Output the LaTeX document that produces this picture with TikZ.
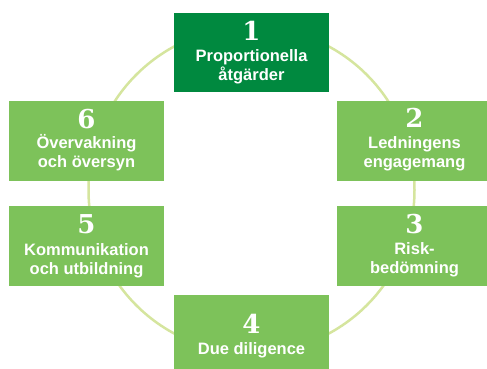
\documentclass[tikz,border=0pt]{standalone}
\usepackage{fontspec}
\setmainfont{Liberation Sans}
\newfontfamily\numfont{DejaVu Serif}
\definecolor{dkgreen}{HTML}{00893F}
\definecolor{ltgreen}{HTML}{7DC25A}
\definecolor{ringcol}{HTML}{D5E59E}
\begin{document}
\begin{tikzpicture}[x=1pt,y=-1pt,
  box/.style={fill=ltgreen, draw=none, minimum width=155pt, minimum height=80pt, inner sep=0pt},
  num/.style={anchor=base, font=\numfont\bfseries\fontsize{26}{26}\selectfont, text=white, inner sep=0pt},
  lbl/.style={anchor=base, font=\bfseries\fontsize{16.5}{19}\selectfont, text=white, inner sep=0pt}]
\useasboundingbox (0,0) rectangle (487,369);
\draw[ringcol, line width=2.5pt] (251.5,190) circle[radius=163pt];
% boxes
\node[box, fill=dkgreen, minimum height=79pt] (b1) at (251.5,52.5) {};
\node[box] (b2) at (414.5,141) {};
\node[box] (b3) at (414.5,246) {};
\node[box] (b4) at (251.5,335) {};
\node[box] (b5) at (86.5,246) {};
\node[box] (b6) at (86.5,141) {};
% box 1
\node[num] (n1) at (251.5,41) {1};
\node[lbl] (t1a) at (251.5,62) {Proportionella};
\node[lbl] (t1b) at (251.5,81) {åtgärder};
% box 2
\node[num] (n2) at (414.5,127) {2};
\node[lbl] (t2a) at (414.5,148) {Ledningens};
\node[lbl] (t2b) at (414.5,167) {engagemang};
% box 3
\node[num] (n3) at (414.5,233) {3};
\node[lbl] (t3a) at (414.5,254) {Risk-};
\node[lbl] (t3b) at (414.5,273) {bedömning};
% box 4
\node[num] (n4) at (251.5,333) {4};
\node[lbl] (t4a) at (251.5,354) {Due diligence};
% box 5
\node[num] (n5) at (86.5,233) {5};
\node[lbl] (t5a) at (86.5,255) {Kommunikation};
\node[lbl] (t5b) at (86.5,274) {och utbildning};
% box 6
\node[num] (n6) at (86.5,128) {6};
\node[lbl] (t6a) at (86.5,148) {Övervakning};
\node[lbl] (t6b) at (86.5,167) {och översyn};
\end{tikzpicture}
\end{document}
